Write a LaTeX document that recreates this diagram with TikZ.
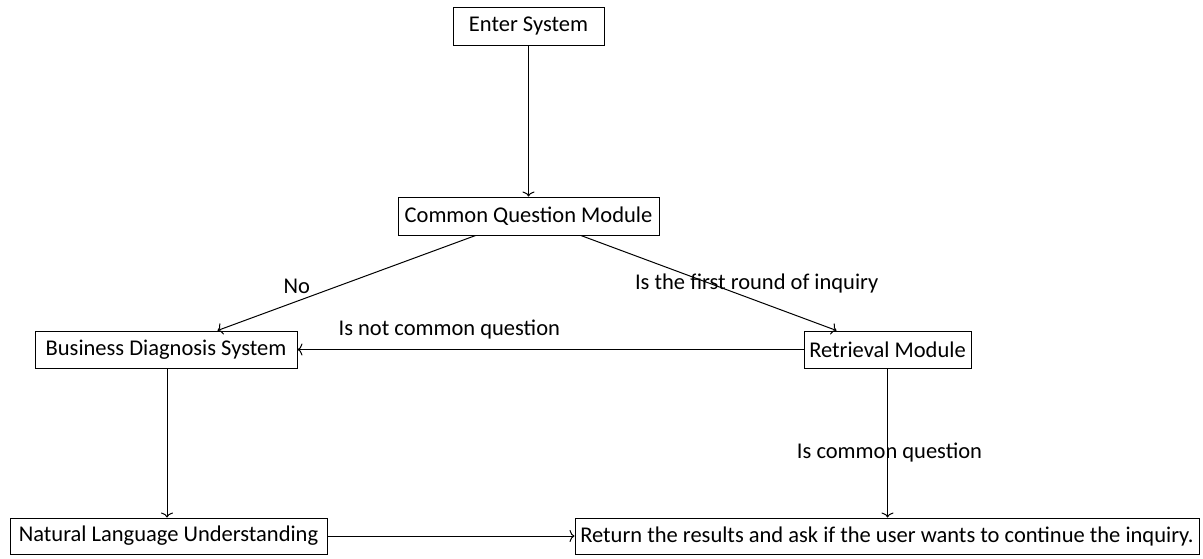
\documentclass[tikz,border=0pt]{standalone}
\usepackage{fontspec}
\setmainfont{Carlito}
\usetikzlibrary{arrows.meta}
\begin{document}
\begin{tikzpicture}[x=1pt,y=-1pt,
  box/.style={draw,line width=1pt,inner sep=0pt,anchor=center},
  conn/.style={line width=1pt,-{To[length=5pt,width=12pt]}},
  lbl/.style={inner sep=0pt,anchor=center},
  every node/.append style={font=\fontsize{22.5}{26}\selectfont}]
\useasboundingbox (0,0) rectangle (1203,558);
\node[box,minimum width=151pt,minimum height=38pt] (enter) at (528.5,26) {Enter System};
\node[box,minimum width=261pt,minimum height=38pt] (cqm) at (528.5,216) {Common Question Module};
\node[box,minimum width=262pt,minimum height=37pt] (bds) at (166,349.5) {Business Diagnosis System};
\node[box,minimum width=167pt,minimum height=37pt] (rm) at (887.5,349.5) {Retrieval Module};
\node[box,minimum width=317pt,minimum height=36pt] (nlu) at (168.5,536) {Natural Language Understanding};
\node[box,minimum width=624pt,minimum height=36pt] (ret) at (887,536) {Return the results and ask if the user wants to continue the inquiry.};
\draw[conn] (enter) -- (cqm);
\draw[conn] (cqm) -- node[lbl,pos=0.693,yshift=14.5pt] {No} (bds);
\draw[conn] (cqm) -- node[lbl,pos=0.688,yshift=17pt] {Is the first round of inquiry} (rm);
\draw[conn] (rm) -- node[lbl,pos=0.70,yshift=19.5pt] {Is not common question} (bds);
\draw[conn] (rm) -- node[lbl,pos=0.567,xshift=2pt] {Is common question} (rm |- ret.north);
\draw[conn] (bds.south -| 167,0) -- (167,0 |- nlu.north);
\draw[conn] (nlu) -- (ret);
\end{tikzpicture}
\end{document}
